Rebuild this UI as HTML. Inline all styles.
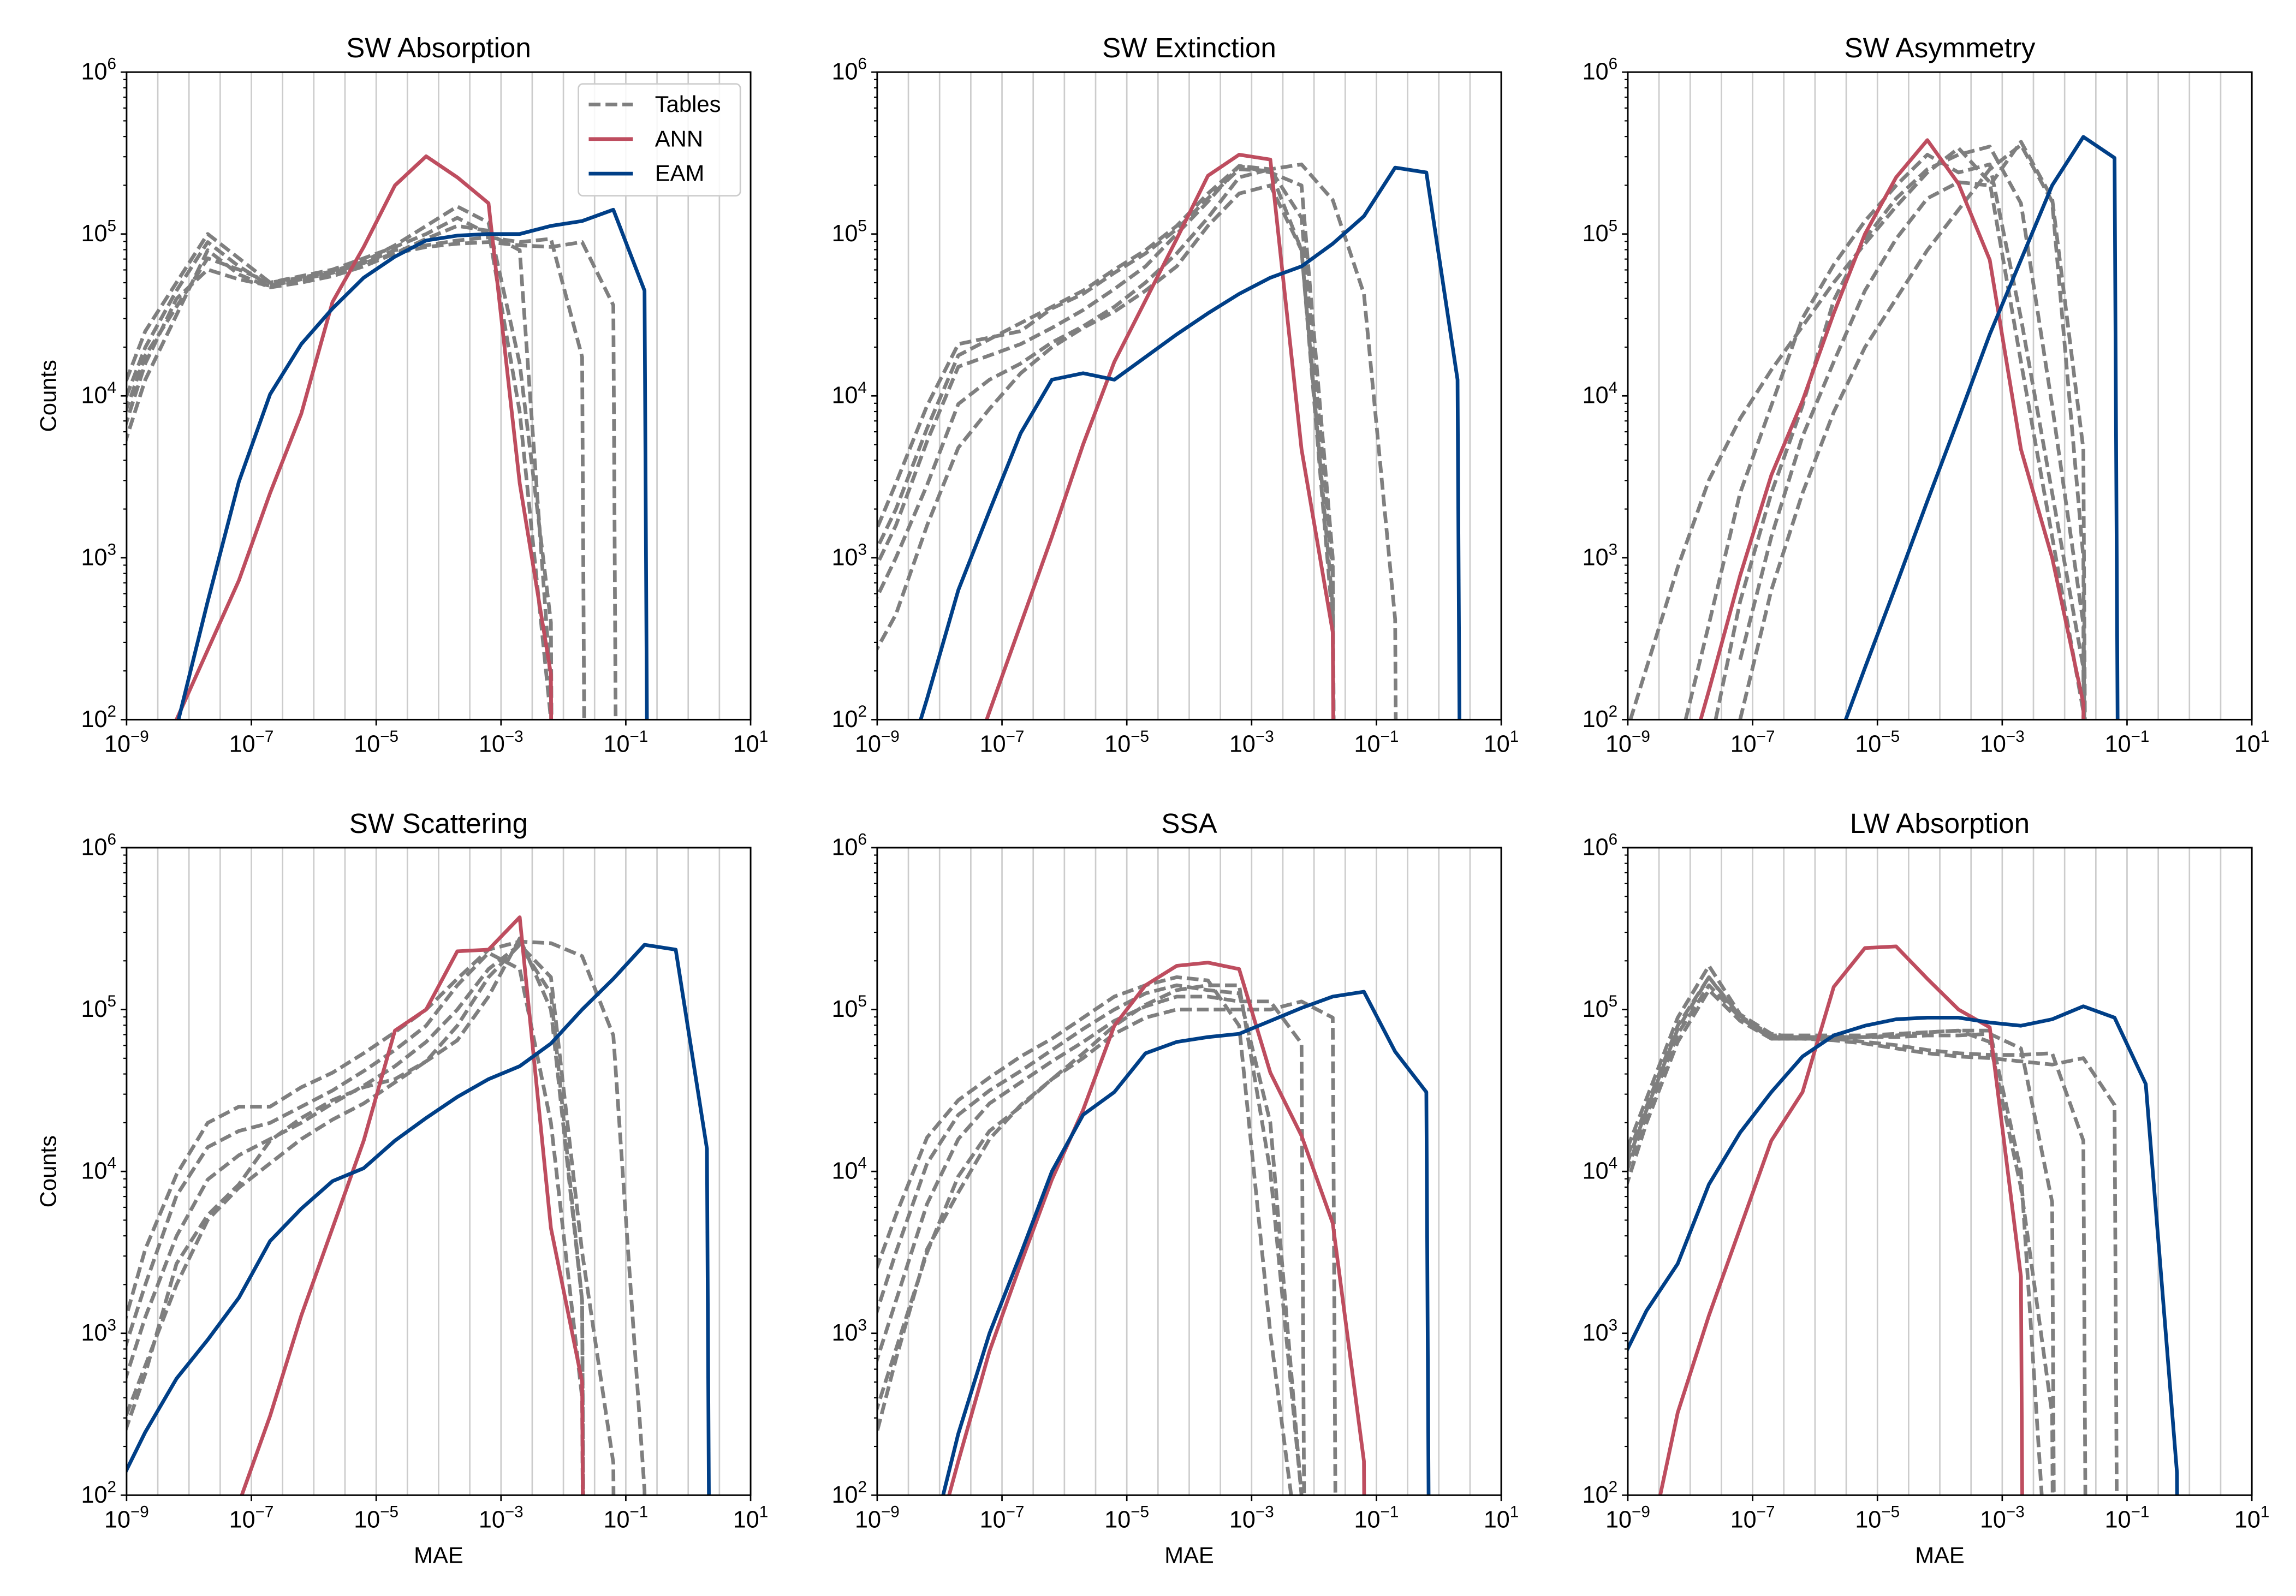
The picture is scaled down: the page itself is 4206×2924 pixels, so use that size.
<!DOCTYPE html>
<html><head><meta charset="utf-8"><style>
html,body{margin:0;padding:0;background:#fff;width:4206px;height:2924px;overflow:hidden;}
svg{display:block;font-family:"Liberation Sans","DejaVu Sans",sans-serif;}
</style></head><body>
<svg id="fig" xmlns="http://www.w3.org/2000/svg" width="4206" height="2924" viewBox="0 0 1560 1084.5">
<rect x="0" y="0" width="1560" height="1084.5" fill="#fff"/>
</svg>
<script>
// Bin centres, log10(MAE)
const bins = [-9.2,-8.7,-8.2,-7.7,-7.2,-6.7,-6.2,-5.7,-5.2,-4.7,-4.2,-3.7,-3.2,-2.7,-2.2,-1.7,-1.2,-0.7,-0.2,0.3,0.8];
const xTickExps = [-9,-7,-5,-3,-1,1];
const yTickExps = [2,3,4,5,6];
const panelTitles = ["SW Absorption","SW Extinction","SW Asymmetry","SW Scattering","SSA","LW Absorption"];
// log10(counts) per bin, beginning at the given start bin; 0 = empty bin
const swAbsTables = [[3.9,4.4,4.7,5.0,4.85,4.7,4.73,4.77,4.83,4.93,5.05,5.17,5.07,4.2,2.6,0],[3.8,4.3,4.65,4.95,4.8,4.68,4.72,4.76,4.82,4.88,4.97,5.05,5.02,3.9,2.0,0],[3.6,4.2,4.6,4.78,4.72,4.68,4.72,4.76,4.82,4.9,4.93,4.96,4.98,4.95,4.97,4.24,0],[3.5,4.1,4.5,4.9,4.75,4.67,4.7,4.74,4.8,4.88,4.92,4.94,4.95,4.93,4.92,4.95,4.56,0],[3.7,4.25,4.55,4.85,4.78,4.7,4.74,4.78,4.85,4.92,5.0,5.1,5.0,4.9,2.2,0]];
const swAbsANN = [2.0,2.43,2.86,3.4,3.89,4.58,4.92,5.3,5.48,5.35,5.19,3.46,2.28,0];
const swAbsEAM = [1.95,2.73,3.47,4.01,4.32,4.54,4.73,4.86,4.96,4.99,5.0,5.0,5.05,5.08,5.15,4.65,0];
const swExtTables = [[3.0,3.46,3.94,4.32,4.36,4.4,4.54,4.63,4.76,4.88,5.03,5.22,5.4,5.39,4.9,2.6,0],[2.8,3.2,3.72,4.18,4.25,4.32,4.42,4.53,4.66,4.8,5.0,5.2,5.42,5.38,5.3,3.0,0],[2.6,3.0,3.45,3.95,4.1,4.2,4.33,4.43,4.55,4.7,4.88,5.1,5.35,5.4,5.1,2.9,0],[2.3,2.65,3.2,3.68,3.92,4.14,4.3,4.42,4.52,4.65,4.8,5.05,5.25,5.3,4.9,2.7,0],[2.9,3.3,3.8,4.25,4.35,4.45,4.55,4.65,4.78,4.9,5.05,5.25,5.42,5.4,5.43,5.21,4.63,2.62,0]];
const swExtANN = [1.5,2.05,2.59,3.13,3.7,4.21,4.59,4.97,5.36,5.49,5.46,3.67,2.54,0];
const swExtEAM = [1.5,2.13,2.8,3.29,3.77,4.1,4.14,4.1,4.24,4.38,4.51,4.63,4.73,4.8,4.94,5.11,5.41,5.38,4.1,0];
const swAsyTables = [[1.7,2.32,2.94,3.48,3.86,4.16,4.43,4.7,4.94,5.17,5.38,5.53,5.32,4.21,3.13,2.05,0],[1.8,2.59,3.4,3.94,4.48,4.81,5.08,5.3,5.49,5.38,5.43,4.48,3.4,2.32,0],[1.8,2.73,3.4,3.94,4.59,4.97,5.22,5.4,5.49,5.54,5.19,3.94,2.59,0],[2.37,3.13,3.75,4.21,4.65,4.97,5.22,5.32,5.3,5.57,5.22,3.67,0],[2.0,2.8,3.4,3.9,4.3,4.6,4.9,5.15,5.4,5.55,5.2,3.0,0]];
const swAsyANN = [1.5,2.18,2.89,3.51,3.97,4.51,5.0,5.35,5.58,5.31,4.84,3.67,3.0,2.1,0];
const swAsyEAM = [1.8,2.32,2.83,3.35,3.86,4.38,4.84,5.3,5.6,5.47,0];
const swScaTables = [[2.7,3.3,3.85,4.15,4.25,4.3,4.4,4.5,4.62,4.75,4.9,5.15,5.35,5.25,4.3,2.6,0],[2.5,3.1,3.6,3.95,4.1,4.2,4.3,4.42,4.53,4.65,4.8,5.0,5.25,5.4,5.1,3.2,0],[2.3,2.8,3.3,3.7,3.9,4.05,4.2,4.32,4.42,4.55,4.68,4.9,5.2,5.4,5.2,3.5,2.2,0],[2.2,2.75,3.43,3.73,3.92,4.19,4.33,4.44,4.52,4.57,4.68,4.81,5.08,5.44,5.0,3.2,0],[2.84,3.52,3.98,4.3,4.4,4.4,4.52,4.61,4.73,4.86,5.0,5.19,5.37,5.42,5.41,5.33,4.84,2.03,0]];
const swScaANN = [1.95,2.49,3.11,3.65,4.19,4.87,5.0,5.36,5.37,5.57,3.65,2.7,0];
const swScaEAM = [2.0,2.39,2.72,2.96,3.22,3.57,3.77,3.94,4.02,4.19,4.33,4.46,4.57,4.65,4.79,5.0,5.19,5.4,5.37,4.14,0];
const ssaTables = [[3.2,3.73,4.21,4.44,4.58,4.71,4.82,4.95,5.08,5.15,5.2,5.18,4.9,3.0,1.5,0],[2.9,3.5,4.05,4.35,4.5,4.62,4.75,4.88,5.0,5.1,5.15,5.12,5.1,4.3,2.0,0],[2.6,3.2,3.8,4.2,4.42,4.55,4.68,4.8,4.93,5.02,5.08,5.08,5.05,5.05,4.79,0],[2.3,2.9,3.5,3.97,4.25,4.4,4.57,4.7,4.85,4.95,5.0,5.0,5.0,5.0,5.05,4.95,0],[2.1,2.84,3.52,3.87,4.2,4.41,4.57,4.73,4.9,5.03,5.12,5.15,5.15,4.0,2.0,0]];
const ssaANN = [1.5,2.21,2.89,3.43,3.95,4.38,4.9,5.15,5.27,5.29,5.25,4.61,4.22,3.68,2.21,0];
const ssaEAM = [1.6,2.38,3.0,3.49,4.0,4.35,4.49,4.73,4.8,4.83,4.85,4.93,5.01,5.08,5.11,4.74,4.49,0];
const lwAbsTables = [[3.95,4.45,4.95,5.27,4.97,4.85,4.82,4.82,4.83,4.84,4.86,4.87,4.87,4.0,1.0,0],[3.9,4.4,4.9,5.2,4.95,4.83,4.83,4.83,4.83,4.83,4.84,4.84,4.85,4.76,3.81,0],[3.8,4.35,4.85,5.15,4.95,4.82,4.82,4.82,4.8,4.78,4.75,4.73,4.72,4.72,4.73,4.19,0],[3.7,4.3,4.8,5.12,4.93,4.82,4.82,4.81,4.79,4.76,4.73,4.71,4.7,4.68,4.66,4.7,4.41,0],[3.85,4.38,4.88,5.2,4.96,4.84,4.84,4.84,4.84,4.85,4.86,4.87,4.8,3.9,2.5,0]];
const lwAbsANN = [1.6,2.51,3.11,3.65,4.19,4.49,5.14,5.38,5.39,5.19,5.0,4.89,3.35,0];
const lwAbsEAM = [2.75,3.14,3.43,3.92,4.24,4.49,4.71,4.84,4.9,4.94,4.95,4.95,4.92,4.9,4.94,5.02,4.95,4.54,2.14,0];
// start bin index for each panel: [tables, ANN, EAM]
const startBins = [[0,2,2],[0,3,1],[[0,2,3,4,4],2,7],[0,4,0],[0,2,2],[0,1,0]];

const NS = "http://www.w3.org/2000/svg";
const svg = document.getElementById("fig");
const colX = [86,596,1106], rowY = [49,576], W = 424, H = 440;
const GRAY = "#7f7f7f", RED = "#be4d5f", BLUE = "#003f87";
function mk(tag, attrs, parent){const e=document.createElementNS(NS,tag);for(const k in attrs)e.setAttribute(k,attrs[k]);(parent||svg).appendChild(e);return e;}
function xScale(p,lx){return p.x + (lx+9)/10*W;}
function yScale(p,ly){return p.y + (6-ly)/4*H;}
function label10(g,x,y,exp,anchor,nm){
  const t=mk("text",{x:x,y:y,"font-size":16,"text-anchor":anchor,fill:"#000"},g);
  
  
  t.appendChild(document.createTextNode("10"));
  const s=mk("tspan",{dy:-7,"font-size":11},t);
  s.textContent = exp<0 ? "\u2212"+(-exp) : String(exp);
  return t;
}
const allData = [[swAbsTables,swAbsANN,swAbsEAM],[swExtTables,swExtANN,swExtEAM],[swAsyTables,swAsyANN,swAsyEAM],[swScaTables,swScaANN,swScaEAM],[ssaTables,ssaANN,ssaEAM],[lwAbsTables,lwAbsANN,lwAbsEAM]];

function drawSeries(p,g,vals,start,color,dash,nm){
  const pts = vals.map((v,i)=>{const ly = v<=0 ? -30 : v; return xScale(p,bins[start+i]).toFixed(2)+","+yScale(p,ly).toFixed(2);});
  const a={points:pts.join(" "),fill:"none",stroke:color,"stroke-width":2.5,"stroke-linejoin":"round"};
  if(dash) a["stroke-dasharray"]="8,3.4";
  const pl = mk("polyline",a,g);
  
  
}

for(let k=0;k<6;k++){
  const p={x:colX[k%3],y:rowY[Math.floor(k/3)]};
  const g=mk("g",{});
  
  
  const cp=mk("clipPath",{id:"cp"+k},g);
  mk("rect",{x:p.x,y:p.y,width:W,height:H},cp);
  for(let j=1;j<20;j++){
    const gx=xScale(p,-9+j*0.5);
    const gl=mk("line",{x1:gx,x2:gx,y1:p.y,y2:p.y+H,stroke:"#cccccc","stroke-width":1},g);
    
    
  }
  const sg=mk("g",{"clip-path":"url(#cp"+k+")"},g);
  const d=allData[k], sb=startBins[k];
  d[0].forEach((s,i)=>drawSeries(p,sg,s,Array.isArray(sb[0])?sb[0][i]:sb[0],GRAY,true,'tables-line-'+(i+1)));
  drawSeries(p,sg,d[1],sb[1],RED,false,'ann-line');
  drawSeries(p,sg,d[2],sb[2],BLUE,false,'eam-line');
  const fr=mk("rect",{x:p.x,y:p.y,width:W,height:H,fill:"none",stroke:"#000","stroke-width":1.1},g);
  
  
  xTickExps.forEach(e=>{
    const tx=xScale(p,e);
    mk("line",{x1:tx,x2:tx,y1:p.y+H,y2:p.y+H+4,stroke:"#000","stroke-width":1},g);
    label10(g,tx,p.y+H+22,e,"middle",'x-tick-label');
  });
  yTickExps.forEach(e=>{
    const ty=yScale(p,e);
    mk("line",{x1:p.x-4,x2:p.x,y1:ty,y2:ty,stroke:"#000","stroke-width":1},g);
    label10(g,p.x-7,ty+5,e,"end",'y-tick-label');
    if(e<6){for(let m=2;m<10;m++){const my=yScale(p,e+Math.log10(m));mk("line",{x1:p.x-2.2,x2:p.x,y1:my,y2:my,stroke:"#000","stroke-width":0.8},g);}}
  });
  const t=mk("text",{x:p.x+W/2,y:p.y-10,"font-size":19,"text-anchor":"middle",fill:"#000"},g);
  
  
  t.textContent=panelTitles[k];
  if(k%3===0){
    const yl=mk("text",{x:0,y:0,"font-size":15.5,"text-anchor":"middle",transform:"translate(38,"+(p.y+H/2)+") rotate(-90)"},g);
    
    
    yl.textContent="Counts";
  }
  if(k>=3){
    const xl=mk("text",{x:p.x+W/2,y:p.y+H+46,"font-size":15.5,"text-anchor":"middle"},g);
    
    
    xl.textContent="MAE";
  }
}
const lg=mk("g",{});


mk("rect",{x:393,y:57,width:110,height:76,rx:3,fill:"#fff","fill-opacity":0.85,stroke:"#cccccc","stroke-width":1},lg);
const legItems=[["Tables",GRAY,true],["ANN",RED,false],["EAM",BLUE,false]];
legItems.forEach((it,i)=>{
  const ly=71+i*23.5;
  const a={x1:400,x2:430,y1:ly,y2:ly,stroke:it[1],"stroke-width":2.5};
  if(it[2]) a["stroke-dasharray"]="8,3.4";
  const ln=mk("line",a,lg);
  
  
  const tx=mk("text",{x:445,y:ly+5,"font-size":15.5},lg);
  
  
  tx.textContent=it[0];
});
</script>
</body></html>
